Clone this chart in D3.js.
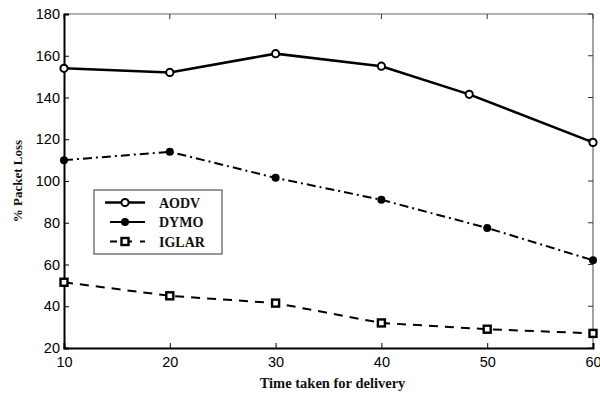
<!DOCTYPE html>
<html>
<head>
<meta charset="utf-8">
<script src="https://cdn.jsdelivr.net/npm/d3@7"></script>
<style>
  body { margin: 0; background: #fff; }
  .tick text { font-family: "Liberation Sans", Arial, sans-serif; font-size: 14.5px; fill: #000; }
  .lbl { font-family: "Liberation Serif", "Times New Roman", serif; font-weight: bold; fill: #111; }
</style>
</head>
<body>
<svg id="chart" width="600" height="393"></svg>
<script>
// Data
const xTicks = [10, 20, 30, 40, 50, 60];
const yTicks = [20, 40, 60, 80, 100, 120, 140, 160, 180];

const aodvX = [10, 20, 30, 40, 48.3, 60];
const aodv = [154, 152, 161, 155, 141.5, 118.5];

const dymoX = [10, 20, 30, 40, 50, 60];
const dymo = [110, 114, 101.5, 91, 77.5, 62];

const iglarX = [10, 20, 30, 40, 50, 60];
const iglar = [51.5, 45, 41.5, 32, 29, 27];

const seriesNames = ["AODV", "DYMO", "IGLAR"];

const margin = { left: 64, top: 14, right: 7, bottom: 45 };
const W = 600, H = 393;
const plotW = W - margin.left - margin.right;
const plotH = H - margin.top - margin.bottom;

const svg = d3.select("#chart");
const g = svg.append("g").attr("transform", `translate(${margin.left},${margin.top})`);

const x = d3.scaleLinear().domain([10, 60]).range([0, plotW]);
const y = d3.scaleLinear().domain([20, 180]).range([plotH, 0]);

// frame: top/right grey, left/bottom black
g.append("line").attr("x1", 0).attr("x2", plotW).attr("y1", 0).attr("y2", 0)
  .attr("stroke", "#666").attr("stroke-width", 1.2);
g.append("line").attr("x1", plotW).attr("x2", plotW).attr("y1", 0).attr("y2", plotH)
  .attr("stroke", "#666").attr("stroke-width", 1.2);

// inward ticks on top and right
g.selectAll(".ttick").data(xTicks).enter().append("line")
  .attr("x1", d => x(d)).attr("x2", d => x(d)).attr("y1", 0).attr("y2", 5)
  .attr("stroke", "#333");
g.selectAll(".rtick").data(yTicks).enter().append("line")
  .attr("x1", plotW).attr("x2", plotW - 5).attr("y1", d => y(d)).attr("y2", d => y(d))
  .attr("stroke", "#333");

const xAxis = g.append("g").attr("transform", `translate(0,${plotH})`)
  .call(d3.axisBottom(x).tickValues(xTicks).tickSize(-5).tickPadding(9));
xAxis.select(".domain").attr("stroke", "#000").attr("stroke-width", 2);
xAxis.selectAll(".tick line").attr("stroke", "#000");

const yAxis = g.append("g")
  .call(d3.axisLeft(y).tickValues(yTicks).tickSize(-5).tickPadding(4));
yAxis.select(".domain").attr("stroke", "#000").attr("stroke-width", 2);
yAxis.selectAll(".tick line").attr("stroke", "#000");

const line = d3.line().x(d => x(d[0])).y(d => y(d[1]));

const styles = [
  { xs: aodvX, ys: aodv, dash: null, width: 2.6 },
  { xs: dymoX, ys: dymo, dash: "9,4,2,4", width: 2 },
  { xs: iglarX, ys: iglar, dash: "9,7", width: 2 }
];

styles.forEach(s => {
  const pts = s.xs.map((v, i) => [v, s.ys[i]]);
  g.append("path").datum(pts)
    .attr("fill", "none").attr("stroke", "#000")
    .attr("stroke-width", s.width)
    .attr("stroke-dasharray", s.dash)
    .attr("d", line);
});

function marker(sel, kind, cx, cy) {
  if (kind === 0) {
    sel.append("circle").attr("cx", cx).attr("cy", cy).attr("r", 3.6)
      .attr("fill", "#fff").attr("stroke", "#000").attr("stroke-width", 2);
  } else if (kind === 1) {
    sel.append("circle").attr("cx", cx).attr("cy", cy).attr("r", 4)
      .attr("fill", "#000");
  } else {
    sel.append("rect").attr("x", cx - 3.5).attr("y", cy - 3.5).attr("width", 7).attr("height", 7)
      .attr("fill", "#fff").attr("stroke", "#000").attr("stroke-width", 2.4);
  }
}

styles.forEach((s, k) => {
  s.xs.forEach((v, i) => marker(g, k, x(v), y(s.ys[i])));
});

// legend
const leg = svg.append("g").attr("transform", "translate(94,190)");
leg.append("rect").attr("width", 128).attr("height", 64)
  .attr("fill", "#fff").attr("stroke", "#555").attr("stroke-width", 1.2);
seriesNames.forEach((name, i) => {
  const ly = 12.5 + i * 19.5;
  leg.append("line").attr("x1", i === 0 ? 11 : 16).attr("x2", 51).attr("y1", ly).attr("y2", ly)
    .attr("stroke", "#000").attr("stroke-width", styles[i].width)
    .attr("stroke-dasharray", i === 2 ? "7,8" : null);
  marker(leg, i, 31, ly);
  leg.append("text").attr("class", "lbl").attr("x", 65).attr("y", ly + 5)
    .attr("font-size", 14).text(name);
});

// axis titles
svg.append("text").attr("class", "lbl")
  .attr("x", margin.left + plotW / 2 + 4).attr("y", 388)
  .attr("text-anchor", "middle").attr("font-size", 14.5)
  .text("Time taken for delivery");

svg.append("text").attr("class", "lbl")
  .attr("transform", `translate(22,${margin.top + plotH / 2}) rotate(-90)`)
  .attr("text-anchor", "middle").attr("font-size", 13)
  .text("% Packet Loss");
</script>
</body>
</html>
